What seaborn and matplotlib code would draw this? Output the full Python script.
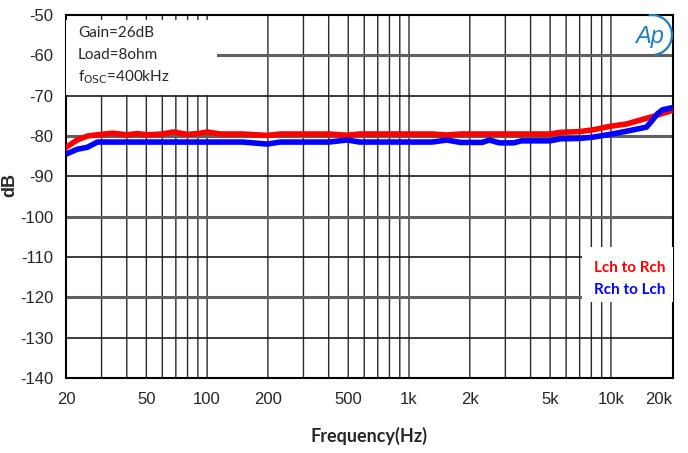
import numpy as np
import pandas as pd
import matplotlib
matplotlib.use("Agg")
import matplotlib.pyplot as plt
import seaborn as sns
from matplotlib.patches import Rectangle, Arc
from matplotlib.ticker import FixedLocator, NullFormatter

# =========================
# Data
# =========================

freq = [20, 22.7, 25.5, 28.6, 34, 40, 45, 51, 60, 68, 80, 90, 100, 116, 150,
        198, 230, 300, 400, 494, 570, 700, 1000, 1300, 1540, 1800, 2300, 2500,
        2800, 3300, 3600, 5000, 5600, 7000, 8100, 9900, 12000, 15000, 16100,
        17000, 18000, 20000]

lch_to_rch = [-82.8, -81.0, -80.0, -79.7, -79.3, -79.7, -79.4, -79.7, -79.5,
              -79.0, -79.6, -79.4, -79.0, -79.5, -79.5, -79.85, -79.5, -79.5,
              -79.5, -79.8, -79.5, -79.5, -79.5, -79.5, -79.75, -79.5, -79.5,
              -79.5, -79.5, -79.5, -79.5, -79.5, -79.1, -78.9, -78.5, -77.6,
              -77.0, -75.6, -75.2, -74.8, -74.4, -73.7]

rch_to_lch = [-84.5, -83.3, -82.8, -81.5, -81.5, -81.5, -81.5, -81.5, -81.5,
              -81.5, -81.5, -81.5, -81.5, -81.5, -81.5, -82.0, -81.5, -81.5,
              -81.5, -81.0, -81.5, -81.5, -81.5, -81.5, -81.0, -81.6, -81.6,
              -81.0, -81.7, -81.7, -81.2, -81.2, -80.7, -80.6, -80.3, -79.6,
              -78.8, -77.8, -76.0, -74.5, -73.5, -73.0]

series_names = ["Lch to Rch", "Rch to Lch"]
series_colors = ["#ff0000", "#0000ff"]

x_ticks = [20, 50, 100, 200, 500, 1000, 2000, 5000, 10000, 20000]
x_labels = ["20", "50", "100", "200", "500", "1k", "2k", "5k", "10k", "20k"]
y_ticks = list(range(-140, -49, 10))

df = pd.DataFrame({
    "freq": freq * 2,
    "dB": lch_to_rch + rch_to_lch,
    "series": [series_names[0]] * len(freq) + [series_names[1]] * len(freq),
})

# =========================
# Figure
# =========================

sns.set_style("white")
plt.rcParams["font.family"] = ["Liberation Sans", "DejaVu Sans"]

W, H = 688, 453
fig = plt.figure(figsize=(W / 100, H / 100), dpi=100)
ax = fig.add_axes([66 / W, 1 - 378 / H, (673 - 66) / W, (378 - 15) / H])

sns.lineplot(data=df, x="freq", y="dB", hue="series", palette=series_colors,
             linewidth=4, legend=False, ax=ax, zorder=5)
ax.set_xscale("log")
ax.set_xlim(20, 20300)
ax.set_ylim(-140, -50)

# grid
grid_x = [m * 10 ** d for d in range(1, 5) for m in range(1, 10)
          if 20 < m * 10 ** d < 20000]
for xv in grid_x:
    ax.axvline(xv, color="#2a2a2a", lw=1.0, zorder=1, snap=False)
for i, yv in enumerate(y_ticks[1:-1]):
    if i % 2 == 1:
        ax.axhline(yv, color="#606060", lw=2.2, zorder=1)
    else:
        ax.axhline(yv, color="#1a1a1a", lw=1.2, zorder=1)

ax.xaxis.set_major_locator(FixedLocator(x_ticks))
ax.set_xticklabels(x_labels, fontsize=12)
ax.get_xticklabels()[-1].set_ha("right")
ax.get_xticklabels()[-1].set_x(20300)
ax.xaxis.set_minor_formatter(NullFormatter())
ax.set_yticks(y_ticks)
ax.set_yticklabels([str(v) for v in y_ticks], fontsize=12)
ax.yaxis.set_minor_locator(FixedLocator(list(range(-140, -49, 2))))
ax.tick_params(axis="x", which="both", length=0, pad=10)
ax.tick_params(axis="y", which="major", length=0, pad=9)
ax.tick_params(axis="y", which="minor", direction="in", length=4.5, width=1.2,
               color="#333333")

for s in ax.spines.values():
    s.set_color("black")
    s.set_linewidth(1.5)

ax.set_xlabel("Frequency(Hz)", fontsize=13, fontweight="bold",
              family=["Lato", "DejaVu Sans"])
ax.xaxis.set_label_coords(0.5, -(427 - 378) / 363)
ax.set_ylabel("dB", fontsize=13, fontweight="bold")
ax.yaxis.set_label_coords(-(66 - 18) / 607, (378 - 185) / 363)

# white boxes over the grid (condition box, legend box)
ax.add_patch(Rectangle((0, 1 - 80 / 363), 151 / 607, 75 / 363,
                       transform=ax.transAxes, facecolor="white",
                       edgecolor="none", zorder=3))
ax.add_patch(Rectangle((516 / 607, (378 - 302) / 363), 91 / 607, 55 / 363,
                       transform=ax.transAxes, facecolor="white",
                       edgecolor="none", zorder=3))

cond_font = ["Lato", "DejaVu Sans"]
fig.text(78 / W, 1 - 33 / H, "Gain=26dB", fontsize=11, family=cond_font, va="center",
         zorder=6)
fig.text(78 / W, 1 - 55 / H, "Load=8ohm", fontsize=11, family=cond_font, va="center",
         zorder=6)
fig.text(78 / W, 1 - 77 / H, r"f$_{\mathrm{OSC}}$=400kHz", fontsize=11,
         family=cond_font, va="center", zorder=6)

fig.text(666 / W, 1 - 268 / H, series_names[0], color=series_colors[0],
         fontsize=11, fontweight="bold", family=cond_font, ha="right", va="center")
fig.text(666 / W, 1 - 290 / H, series_names[1], color=series_colors[1],
         fontsize=11, fontweight="bold", family=cond_font, ha="right", va="center")

# Ap logo
logo_col = "#1f7fbf"
fig.text(650 / W, 1 - 36 / H, "Ap", color=logo_col, fontsize=17, style="italic",
         family=["Liberation Sans", "DejaVu Sans"], ha="center", va="center")
fig.patches.append(Arc((652 / 100, (H - 35) / 100), 0.40, 0.40, theta1=-85,
                       theta2=100, color=logo_col, lw=1.6,
                       transform=fig.dpi_scale_trans))

fig.savefig("out.png", dpi=100, facecolor="white")
